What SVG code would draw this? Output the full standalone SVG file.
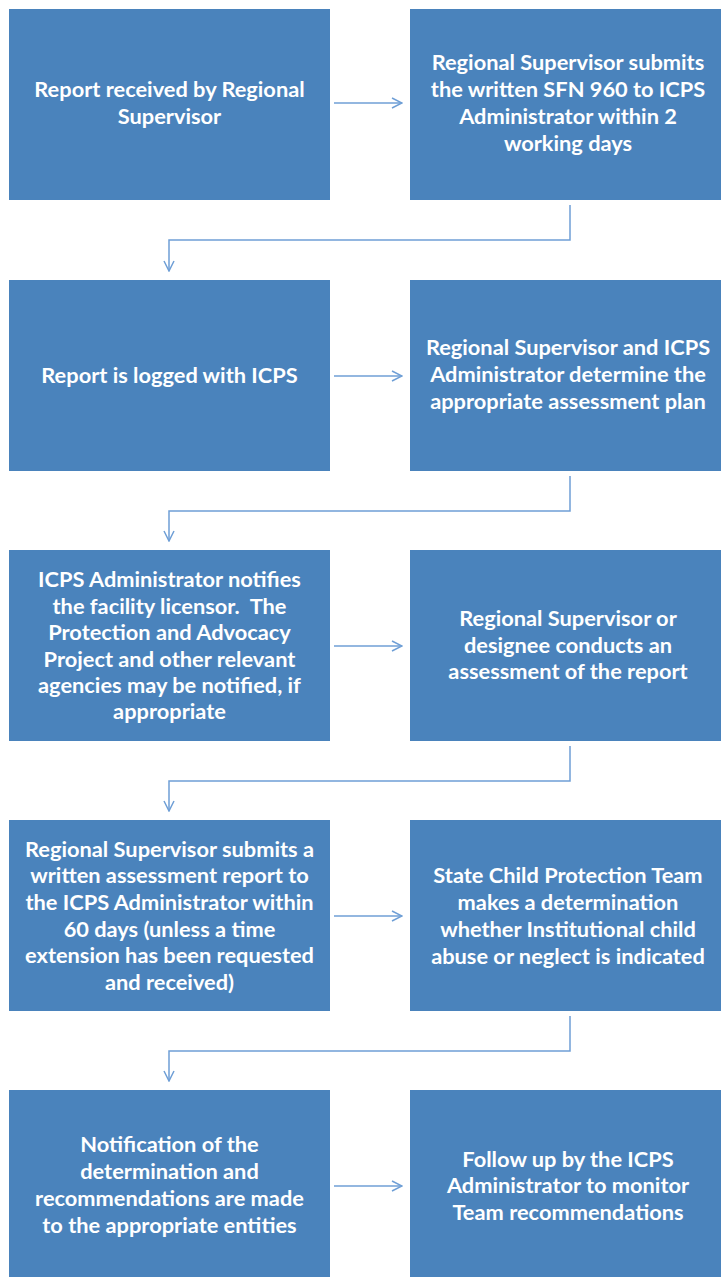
<svg xmlns="http://www.w3.org/2000/svg" width="721" height="1277" viewBox="0 0 721 1277">
<defs>
<marker id="arr" viewBox="0 0 12 12" refX="11" refY="6" markerWidth="12" markerHeight="12" markerUnits="userSpaceOnUse" orient="auto">
<path d="M1,1 L11,6 L1,11" fill="none" stroke="#6f9fd6" stroke-width="1.5"/>
</marker>
</defs>
<style>
.box{fill:#4a83bc;}
.t{font-family:Lato,"Liberation Sans",sans-serif;font-size:21.8px;font-weight:bold;fill:#ffffff;text-anchor:middle;white-space:pre;}
.c{fill:none;stroke:#6f9fd6;stroke-width:1.5;marker-end:url(#arr);}
</style>
<rect width="721" height="1277" fill="#ffffff"/>
<g id="n1"><rect class="box" x="9" y="9" width="321" height="191"/>
<text class="t" x="169.5" y="97">Report received by Regional</text>
<text class="t" x="169.5" y="124">Supervisor</text></g>
<g id="n2"><rect class="box" x="410" y="9" width="311" height="191"/>
<text class="t" x="568" y="70">Regional Supervisor submits</text>
<text class="t" x="568" y="97">the written SFN 960 to ICPS</text>
<text class="t" x="568" y="124">Administrator within 2</text>
<text class="t" x="568" y="151">working days</text></g>
<g id="n3"><rect class="box" x="9" y="280" width="321" height="191"/>
<text class="t" x="169.5" y="383">Report is logged with ICPS</text></g>
<g id="n4"><rect class="box" x="410" y="280" width="311" height="191"/>
<text class="t" x="568" y="355">Regional Supervisor and ICPS</text>
<text class="t" x="568" y="382">Administrator determine the</text>
<text class="t" x="568" y="409">appropriate assessment plan</text></g>
<g id="n5"><rect class="box" x="9" y="550" width="321" height="191"/>
<text class="t" x="169.5" y="587">ICPS Administrator notifies</text>
<text class="t" x="169.5" y="614">the facility licensor.  The</text>
<text class="t" x="169.5" y="640">Protection and Advocacy</text>
<text class="t" x="169.5" y="667">Project and other relevant</text>
<text class="t" x="169.5" y="693">agencies may be notified, if</text>
<text class="t" x="169.5" y="719">appropriate</text></g>
<g id="n6"><rect class="box" x="410" y="550" width="311" height="191"/>
<text class="t" x="568" y="626">Regional Supervisor or</text>
<text class="t" x="568" y="653">designee conducts an</text>
<text class="t" x="568" y="679">assessment of the report</text></g>
<g id="n7"><rect class="box" x="9" y="820" width="321" height="191"/>
<text class="t" x="169.5" y="857">Regional Supervisor submits a</text>
<text class="t" x="169.5" y="883">written assessment report to</text>
<text class="t" x="169.5" y="910">the ICPS Administrator within</text>
<text class="t" x="169.5" y="937">60 days (unless a time</text>
<text class="t" x="169.5" y="963">extension has been requested</text>
<text class="t" x="169.5" y="990">and received)</text></g>
<g id="n8"><rect class="box" x="410" y="820" width="311" height="191"/>
<text class="t" x="568" y="883">State Child Protection Team</text>
<text class="t" x="568" y="910">makes a determination</text>
<text class="t" x="568" y="937">whether Institutional child</text>
<text class="t" x="568" y="964">abuse or neglect is indicated</text></g>
<g id="n9"><rect class="box" x="9" y="1090" width="321" height="187"/>
<text class="t" x="169.5" y="1152">Notification of the</text>
<text class="t" x="169.5" y="1179">determination and</text>
<text class="t" x="169.5" y="1206">recommendations are made</text>
<text class="t" x="169.5" y="1233">to the appropriate entities</text></g>
<g id="n10"><rect class="box" x="410" y="1090" width="311" height="187"/>
<text class="t" x="568" y="1167">Follow up by the ICPS</text>
<text class="t" x="568" y="1193">Administrator to monitor</text>
<text class="t" x="568" y="1220">Team recommendations</text></g>
<g id="connectors">
<path class="c" d="M334,103 L402,103"/>
<path class="c" d="M570,205 L570,240 L169,240 L169,271"/>
<path class="c" d="M334,376 L402,376"/>
<path class="c" d="M570,476 L570,511 L169,511 L169,541"/>
<path class="c" d="M334,646 L402,646"/>
<path class="c" d="M570,746 L570,781 L169,781 L169,811"/>
<path class="c" d="M334,916 L402,916"/>
<path class="c" d="M570,1016 L570,1051 L169,1051 L169,1081"/>
<path class="c" d="M334,1186 L402,1186"/>
</g>
</svg>
